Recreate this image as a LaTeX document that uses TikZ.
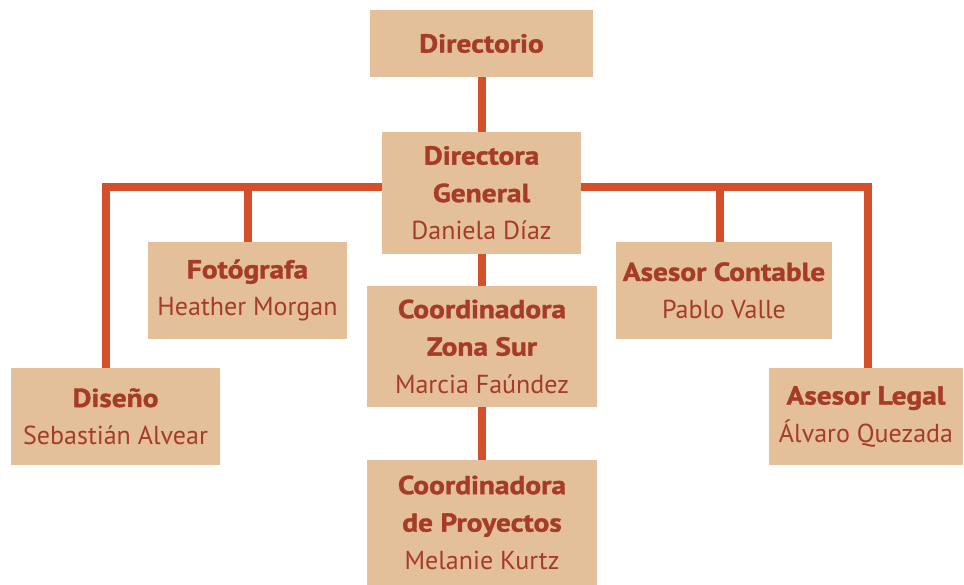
\documentclass[tikz,border=0pt]{standalone}
\usepackage{fontspec}
\setmainfont{PT Sans}
\newfontfamily\heavy{PT Sans}[FakeStretch=1.13, BoldFeatures={FakeBold=1.3}]
\newcommand{\hd}[1]{{\heavy\bfseries #1}}
\definecolor{boxfill}{HTML}{E3BF9A}
\definecolor{linec}{HTML}{D4502A}
\definecolor{txt}{HTML}{A63C27}
\begin{document}
\begin{tikzpicture}[x=1pt,y=-1pt,
  box/.style={fill=boxfill, inner sep=0pt, align=center, text=txt,
    font=\fontsize{26}{37.5}\selectfont},
  conn/.style={draw=linec, line width=8pt, line join=miter, line cap=butt}]
\useasboundingbox (0,0) rectangle (964,585);
\node[box, minimum width=223pt, minimum height=67pt] (dir) at (481.5,43.5) {\hd{Directorio}};
\node[box, minimum width=199pt, minimum height=122pt] (dg) at (481.5,193) {\hd{Directora}\\\hd{General}\\Daniela Díaz};
\node[box, minimum width=199pt, minimum height=97pt] (fot) at (247.5,290.5) {\hd{Fotógrafa}\\Heather Morgan};
\node[box, minimum width=230pt, minimum height=121pt] (czs) at (482,346.5) {\hd{Coordinadora}\\\hd{Zona Sur}\\Marcia Faúndez};
\node[box, minimum width=216pt, minimum height=97pt] (ac) at (724,290.5) {\hd{Asesor Contable}\\Pablo Valle};
\node[box, minimum width=209pt, minimum height=97pt] (dis) at (115.5,416.5) {\hd{Diseño}\\Sebastián Alvear};
\node[box, minimum width=194pt, minimum height=97pt] (al) at (866,416.5) {\hd{Asesor Legal}\\Álvaro Quezada};
\node[box, minimum width=230pt, minimum height=125pt] (cp) at (482,522.5) {\hd{Coordinadora}\\\hd{de Proyectos}\\Melanie Kurtz};
\coordinate (hl) at (106,187);
\coordinate (hr) at (868,187);
\coordinate (bf) at (248,187);
\coordinate (bc) at (720,187);
\draw[conn] (dir.south -| 481.5,0) -- (dg.north -| 481.5,0);
\draw[conn] (dg.south -| 481.5,0) -- (czs.north -| 481.5,0);
\draw[conn] (czs.south -| 481.5,0) -- (cp.north -| 481.5,0);
\draw[conn] (dis.north -| hl) -- (hl) -- (dg.west |- hl);
\draw[conn] (al.north -| hr) -- (hr) -- (dg.east |- hr);
\draw[conn] (bf) -- (bf |- fot.north);
\draw[conn] (bc) -- (bc |- ac.north);
\end{tikzpicture}
\end{document}
